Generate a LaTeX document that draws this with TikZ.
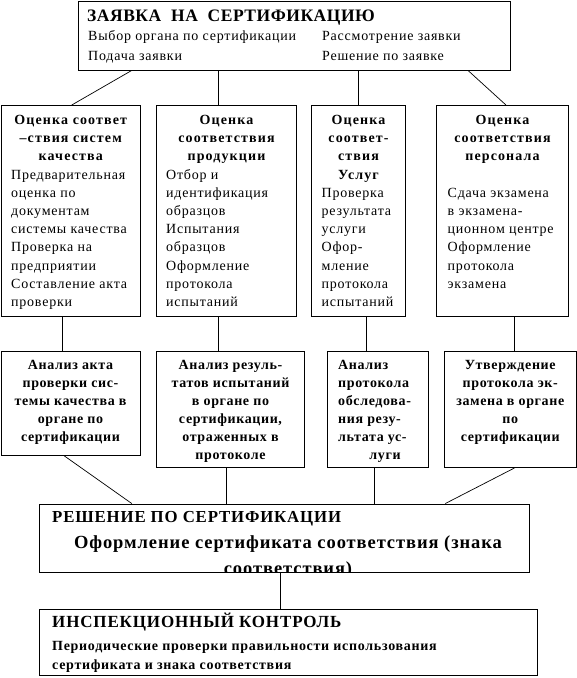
\documentclass[tikz,border=0pt]{standalone}
\usepackage{fontspec}
\setmainfont{Liberation Serif}
\usetikzlibrary{calc}
\begin{document}
\begin{tikzpicture}[x=1pt,y=-1pt,
  box/.style={draw,line width=0.9pt,inner sep=0,fill=white},
  conn/.style={line width=0.9pt},
  diag/.style={line width=0.7pt},
  rl/.style={inner sep=0,anchor=base west,font=\fontsize{14}{16}\selectfont\addfontfeature{LetterSpace=5.5}},
  bc/.style={inner sep=0,anchor=base,font=\bfseries\fontsize{14}{16}\selectfont\addfontfeature{LetterSpace=8}},
  bc3/.style={inner sep=0,anchor=base,font=\bfseries\fontsize{14}{16}\selectfont\addfontfeature{LetterSpace=4.5}},
  bl3/.style={inner sep=0,anchor=base west,font=\bfseries\fontsize{14}{16}\selectfont\addfontfeature{LetterSpace=4.5}},
  bl/.style={inner sep=0,anchor=base west,font=\bfseries\fontsize{14}{16}\selectfont\addfontfeature{LetterSpace=5}},
  ttl/.style={inner sep=0,anchor=base west,font=\bfseries\fontsize{17.5}{20}\selectfont\addfontfeature{LetterSpace=3}},
  hdr/.style={inner sep=0,anchor=base west,font=\bfseries\fontsize{16.8}{20}\selectfont\addfontfeature{LetterSpace=5}},
  big/.style={inner sep=0,anchor=base,font=\bfseries\fontsize{18.5}{20}\selectfont\addfontfeature{LetterSpace=5}}]
\useasboundingbox[fill=white] (0,0) rectangle (577,678);

% boxes
\node[box,minimum width=431.5pt,minimum height=68.5pt] (top) at (294.25,35.75) {};
\node[box,minimum width=139.5pt,minimum height=211pt] (A2) at (70.75,211) {};
\node[box,minimum width=140pt,minimum height=211pt] (B2) at (226.5,211) {};
\node[box,minimum width=94pt,minimum height=211pt] (C2) at (358.5,211) {};
\node[box,minimum width=132pt,minimum height=211pt] (D2) at (502.5,211) {};
\node[box,minimum width=139pt,minimum height=104.5pt] (A3) at (70.5,403.25) {};
\node[box,minimum width=148pt,minimum height=116.5pt] (B3) at (230.5,409.25) {};
\node[box,minimum width=101pt,minimum height=116.5pt] (C3) at (378,409.25) {};
\node[box,minimum width=131.5pt,minimum height=116.5pt] (D3) at (510.25,409.25) {};
\node[box,minimum width=489.5pt,minimum height=68pt] (dec) at (284.25,538) {};
\node[box,minimum width=498pt,minimum height=66pt] (insp) at (288.5,642) {};

% x positions of connector ends
\coordinate (xa1) at (131.7,0);
\coordinate (xa2) at (71.7,0);
\coordinate (xb) at (218.5,0);
\coordinate (xc) at (358,0);
\coordinate (xd1) at (468,0);
\coordinate (xd2) at (506,0);
\coordinate (xA) at (62.2,0);
\coordinate (xC) at (366.6,0);
\coordinate (xD) at (514.5,0);
\coordinate (xa3) at (64.4,0);
\coordinate (xadec) at (131.8,0);
\coordinate (xB3) at (226.4,0);
\coordinate (xC3) at (374.3,0);
\coordinate (xddec) at (445.3,0);
\coordinate (xdi) at (280.5,0);

% connectors
\draw[diag] (top.south -| xa1) -- (A2.north -| xa2);
\draw[conn] (top.south -| xb) -- (B2.north -| xb);
\draw[conn] (top.south -| xc) -- (C2.north -| xc);
\draw[diag] (top.south -| xd1) -- (D2.north -| xd2);
\draw[conn] (A2.south -| xA) -- (A3.north -| xA);
\draw[conn] (B2.south -| xb) -- (B3.north -| xb);
\draw[conn] (C2.south -| xC) -- (C3.north -| xC);
\draw[conn] (D2.south -| xD) -- (D3.north -| xD);
\draw[diag] (A3.south -| xa3) -- (dec.north -| xadec);
\draw[conn] (B3.south -| xB3) -- (dec.north -| xB3);
\draw[conn] (C3.south -| xC3) -- (dec.north -| xC3);
\draw[diag] (D3.south -| xD) -- (dec.north -| xddec);
\draw[conn] (dec.south -| xdi) -- (insp.north -| xdi);

% top box text
\node[ttl] (t0) at (87,21) {ЗАЯВКА~~НА~~СЕРТИФИКАЦИЮ};
\node[rl] (t1) at (88,40) {Выбор органа по сертификации};
\node[rl] (t2) at (322,40) {Рассмотрение заявки};
\node[rl] (t3) at (88,60) {Подача заявки};
\node[rl] (t4) at (322,60) {Решение по заявке};

% level 2
\foreach \t [count=\i] in {Оценка соответ,–ствия систем,качества}
  \node[bc] (A2h\i) at (70.75,{124.5+18.2*(\i-1)}) {\t};
\foreach \t [count=\i from 4] in {Предварительная,оценка по,документам,системы качества,Проверка на,предприятии,Составление акта,проверки}
  \node[rl] (A2b\i) at (11,{124.5+18.2*(\i-1)}) {\t};

\foreach \t [count=\i] in {Оценка,соответствия,продукции}
  \node[bc] (B2h\i) at (226.5,{124.5+18.2*(\i-1)}) {\t};
\foreach \t [count=\i from 4] in {Отбор и,идентификация,образцов,Испытания,образцов,Оформление,протокола,испытаний}
  \node[rl] (B2b\i) at (166,{124.5+18.2*(\i-1)}) {\t};

\foreach \t [count=\i] in {Оценка,соответ-,ствия,Услуг}
  \node[bc] (C2h\i) at (358.5,{124.5+18.2*(\i-1)}) {\t};
\foreach \t [count=\i from 5] in {Проверка,результата,услуги,Офор-,мление,протокола,испытаний}
  \node[rl] (C2b\i) at (321.5,{124.5+18.2*(\i-1)}) {\t};

\foreach \t [count=\i] in {Оценка,соответствия,персонала}
  \node[bc] (D2h\i) at (502.5,{124.5+18.2*(\i-1)}) {\t};
\foreach \t [count=\i from 5] in {Сдача экзамена,в экзамена-,ционном центре,Оформление,протокола,экзамена}
  \node[rl] (D2b\i) at (447.5,{124.5+18.2*(\i-1)}) {\t};

% level 3
\foreach \t [count=\i] in {Анализ акта,проверки сис-,темы качества в,органе по,сертификации}
  \node[bc3] (A3t\i) at (70.5,{369.5+18*(\i-1)}) {\t};
\foreach \t [count=\i] in {Анализ резуль-,татов испытаний,в органе по,{сертификации,},отраженных в,протоколе}
  \node[bc3] (B3t\i) at (230.5,{369.5+18*(\i-1)}) {\t};
\foreach \t [count=\i] in {Анализ,протокола,обследова-,ния резу-,льтата ус-}
  \node[bl3] (C3t\i) at (338,{369.5+18*(\i-1)}) {\t};
\node[bc3] (C3t6) at (385,459.5) {луги};
\foreach \t [count=\i] in {Утверждение,протокола эк-,замена в органе,по,сертификации}
  \node[bc3] (D3t\i) at (510.25,{369.5+18*(\i-1)}) {\t};

% decision
\node[hdr] (d1) at (52,522) {РЕШЕНИЕ ПО СЕРТИФИКАЦИИ};
\node[big] (d2) at (288,548.5) {Оформление сертификата соответствия (знака};
\begin{scope}
  \clip (dec.south west) rectangle (dec.north east);
  \node[big] (d3) at (288,574.5) {соответствия)};
\end{scope}

% inspection
\node[hdr,font=\bfseries\fontsize{17}{20}\selectfont\addfontfeature{LetterSpace=5}] (i1) at (52,627.5) {ИНСПЕКЦИОННЫЙ КОНТРОЛЬ};
\node[bl] (i2) at (52,650.5) {Периодические проверки правильности использования};
\node[bl] (i3) at (52,669.5) {сертификата и знака соответствия};
\end{tikzpicture}
\end{document}
